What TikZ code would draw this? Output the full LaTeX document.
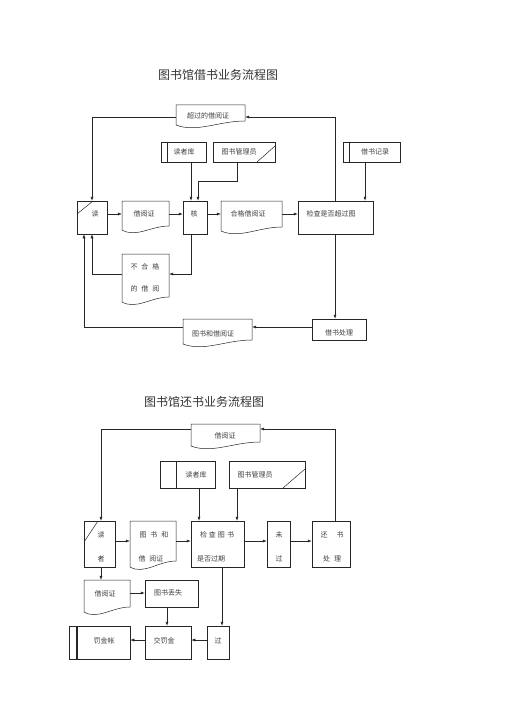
\documentclass[tikz,border=0pt]{standalone}
\usepackage{fontspec}
\newfontfamily\cjk{Noto Sans CJK SC}
\usetikzlibrary{arrows.meta,calc}
\tikzset{
  ln/.style={line width=0.5pt, draw=black!85},
  arr/.style={ln, -{Latex[length=4pt,width=3pt]}},
  txt/.style={font=\cjk\fontsize{7}{8}\selectfont, text=black!75, inner sep=0pt},
  ttl/.style={font=\cjk\fontsize{12}{14}\selectfont, text=black!80, inner sep=0pt},
  boxst/.style={draw=black!85, line width=0.5pt, inner sep=0pt},
}
% \mybox{name}{x0}{y0}{x1}{y1}
\newcommand\mybox[5]{%
  \node[boxst,minimum width={(#4-#2)*1pt},minimum height={(#5-#3)*1pt}] (#1) at ({(#2+#4)/2},{(#3+#5)/2}) {};}
% \mydoc{name}{x0}{y0}{x1}{y1 left bottom}{rise at right}
\newcommand\mydoc[6]{%
  \node[inner sep=0pt,minimum width={(#4-#2)*1pt},minimum height={(#5-#3)*1pt}] (#1) at ({(#2+#4)/2},{(#3+#5)/2}) {};
  \draw[ln] (#2,#5) -- (#2,#3) -- (#4,#3) -- (#4,{#5-#6}) .. controls ({#2+0.62*(#4-#2)},{#5-#6}) and ({#2+0.3*(#4-#2)},{#5+8}) .. (#2,#5);}
\begin{document}
\begin{tikzpicture}[x=1pt,y=-1pt]
\useasboundingbox[fill=white] (0,0) rectangle (505,714);

% ---------- helper coordinates ----------
\coordinate (X84) at (84,0);
\coordinate (X101) at (101,0);
\coordinate (X167) at (167,0);
\coordinate (X191) at (191,0);
\coordinate (X198) at (198,0);
\coordinate (X199) at (199,0);
\coordinate (X222) at (222,0);
\coordinate (X237) at (237,0);
\coordinate (X335) at (335,0);
\coordinate (X365) at (365,0);
\coordinate (Y117) at (0,117);
\coordinate (Y181) at (0,181);
\coordinate (Y214) at (0,214);
\coordinate (Y274) at (0,274);
\coordinate (Y327) at (0,327);
\coordinate (Y429) at (0,429);
\coordinate (Y541) at (0,541);
\coordinate (Y593) at (0,593);
\coordinate (Y640) at (0,640);

% ================= top diagram =================
\node[ttl] (title1) at (218,75) {图书馆借书业务流程图};

\mydoc{cg}{176}{105}{245}{125}{4}
\node[txt] (t-cg) at (208,116) {超过的借阅证};

\mybox{dzk}{161}{142}{206}{162}
\draw[ln] (167,142) -- (167,162);
\node[txt] (t-dzk) at (184,152) {读者库};

\mybox{gly}{213}{142}{275}{162}
\draw[ln] (257,162) -- (275,146);
\node[txt] (t-gly) at (239,152) {图书管理员};

\mybox{jl}{343}{142}{400}{162}
\draw[ln] (349,142) -- (349,162);
\node[txt] (t-jl) at (375,152) {借书记录};

\mybox{du}{77}{201}{107}{234}
\draw[ln] (77,214) -- (93,201);
\node[txt] (t-du) at (95,214) {读};

\mydoc{jyz}{122}{201}{169}{230}{4}
\node[txt] (t-jyz) at (144,214) {借阅证};

\mybox{he}{183}{201}{207}{234}
\draw[line width=1.2pt,black!85] (183.6,201) -- (183.6,234);
\node[txt] (t-he) at (194,214) {核};

\mydoc{hg}{221}{201}{282}{231}{4}
\node[txt] (t-hg) at (248,214) {合格借阅证};

\mybox{jc}{298}{201}{373}{234}
\node[txt] (t-jc) at (331,214) {检查是否超过图};

\mydoc{bhg}{122}{254}{169}{302}{5}
\node[txt] (t-bhg1) at (145,267) {不\hspace{4pt}合\hspace{4pt}格};
\node[txt] (t-bhg2) at (145,289) {的\hspace{4pt}借\hspace{4pt}阅};

\mybox{cl}{312}{319}{366}{340}
\node[txt] (t-cl) at (339,333) {借书处理};

\mydoc{tsj}{183}{319}{252}{344}{4}
\node[txt] (t-tsj) at (213,334) {图书和借阅证};

% connectors (top)
\draw[arr] (cg.west |- Y117) -| (du.north);
\draw[arr] (jc.north -| X335) |- (cg.east |- Y117);
\draw[arr] (dzk.south -| X191) -- (he.north -| X191);
\draw[arr] (gly.south -| X237) |- (X198 |- Y181) -- (he.north -| X198);
\draw[arr] (jl.south -| X365) -- (jc.north -| X365);
\draw[arr] (du.east |- Y214) -- (jyz.west |- Y214);
\draw[arr] (jyz.east |- Y214) -- (he.west |- Y214);
\draw[arr] (he.east |- Y214) -- (hg.west |- Y214);
\draw[arr] (hg.east |- Y214) -- (jc.west |- Y214);
\draw[arr] (he.south -| X191) |- (bhg.east |- Y274);
\draw[arr] (bhg.west |- Y274) -| (du.south);
\draw[arr] (jc.south -| X335) -- (cl.north -| X335);
\draw[arr] (cl.west |- Y327) -- (tsj.east |- Y327);
\draw[arr] (tsj.west |- Y327) -| (du.south -| X84);

% ================= bottom diagram =================
\node[ttl] (title2) at (204,402) {图书馆还书业务流程图};

\mydoc{B}{191}{424}{260}{446}{4}
\node[txt] (t-B) at (225,436) {借阅证};

\mybox{dzk2}{160}{461}{215}{488}
\draw[ln] (176,461) -- (176,488);
\node[txt] (t-dzk2) at (196,475) {读者库};

\mybox{gly2}{229}{461}{305}{488}
\draw[ln] (283,488) -- (305,469);
\node[txt] (t-gly2) at (255,475) {图书管理员};

\mybox{dz}{84}{521}{115}{567}
\draw[ln] (84,542) -- (98,521);
\node[txt] (t-dz1) at (101,535) {读};
\node[txt] (t-dz2) at (101,559) {者};

\mydoc{tj}{130}{521}{176}{567}{6}
\node[txt] (t-tj1) at (154,535) {图\hspace{4pt}书\hspace{4pt}和};
\node[txt] (t-tj2) at (151,559) {借\hspace{4pt}阅证};

\mybox{jc2}{191}{521}{244}{567}
\node[txt] (t-jc21) at (217,535) {检\hspace{2pt}查\hspace{2pt}图\hspace{2pt}书};
\node[txt,anchor=west] (t-jc22) at (197,559) {是否过期};

\mybox{wg}{267}{521}{290}{567}
\node[txt] (t-wg1) at (279,535) {未};
\node[txt] (t-wg2) at (279,559) {过};

\mybox{hs}{312}{521}{350}{567}
\node[txt] (t-hs1) at (332,535) {还\hspace{9pt}书};
\node[txt] (t-hs2) at (332,559) {处\hspace{4pt}理};

\mydoc{jyz2}{84}{580}{130}{612}{5}
\node[txt] (t-jyz2) at (105,594) {借阅证};

\mybox{ds}{145}{580}{198}{607}
\node[txt] (t-ds) at (168,593) {图书丢失};

\mybox{jfj}{145}{626}{191}{659}
\node[txt] (t-jfj) at (164,641) {交罚金};

\mybox{guo}{207}{626}{229}{659}
\node[txt] (t-guo) at (218,641) {过};

\mybox{fjz}{69}{626}{130}{659}
\draw[line width=1.1pt,black!85] (77,626) -- (77,659);
\node[txt] (t-fjz) at (104,641) {罚金帐};

% connectors (bottom)
\draw[arr] (B.west |- Y429) -| (dz.north -| X101);
\draw[arr] (hs.north -| X335) |- (B.east |- Y429);
\draw[arr] (dzk2.south -| X199) -- (jc2.north -| X199);
\draw[arr] (gly2.south -| X237) -- (jc2.north -| X237);
\draw[arr] (dz.east |- Y541) -- (tj.west |- Y541);
\draw[arr] (tj.east |- Y541) -- (jc2.west |- Y541);
\draw[arr] (jc2.east |- Y541) -- (wg.west |- Y541);
\draw[arr] (wg.east |- Y541) -- (hs.west |- Y541);
\draw[arr] (dz.south -| X101) -- (jyz2.north -| X101);
\draw[arr] (jyz2.east |- Y593) -- (ds.west |- Y593);
\draw[arr] (ds.south -| X167) -- (jfj.north -| X167);
\draw[arr] (jc2.south -| X222) -- (guo.north -| X222);
\draw[arr] (guo.west |- Y640) -- (jfj.east |- Y640);
\draw[arr] (jfj.west |- Y640) -- (fjz.east |- Y640);
\end{tikzpicture}
\end{document}
